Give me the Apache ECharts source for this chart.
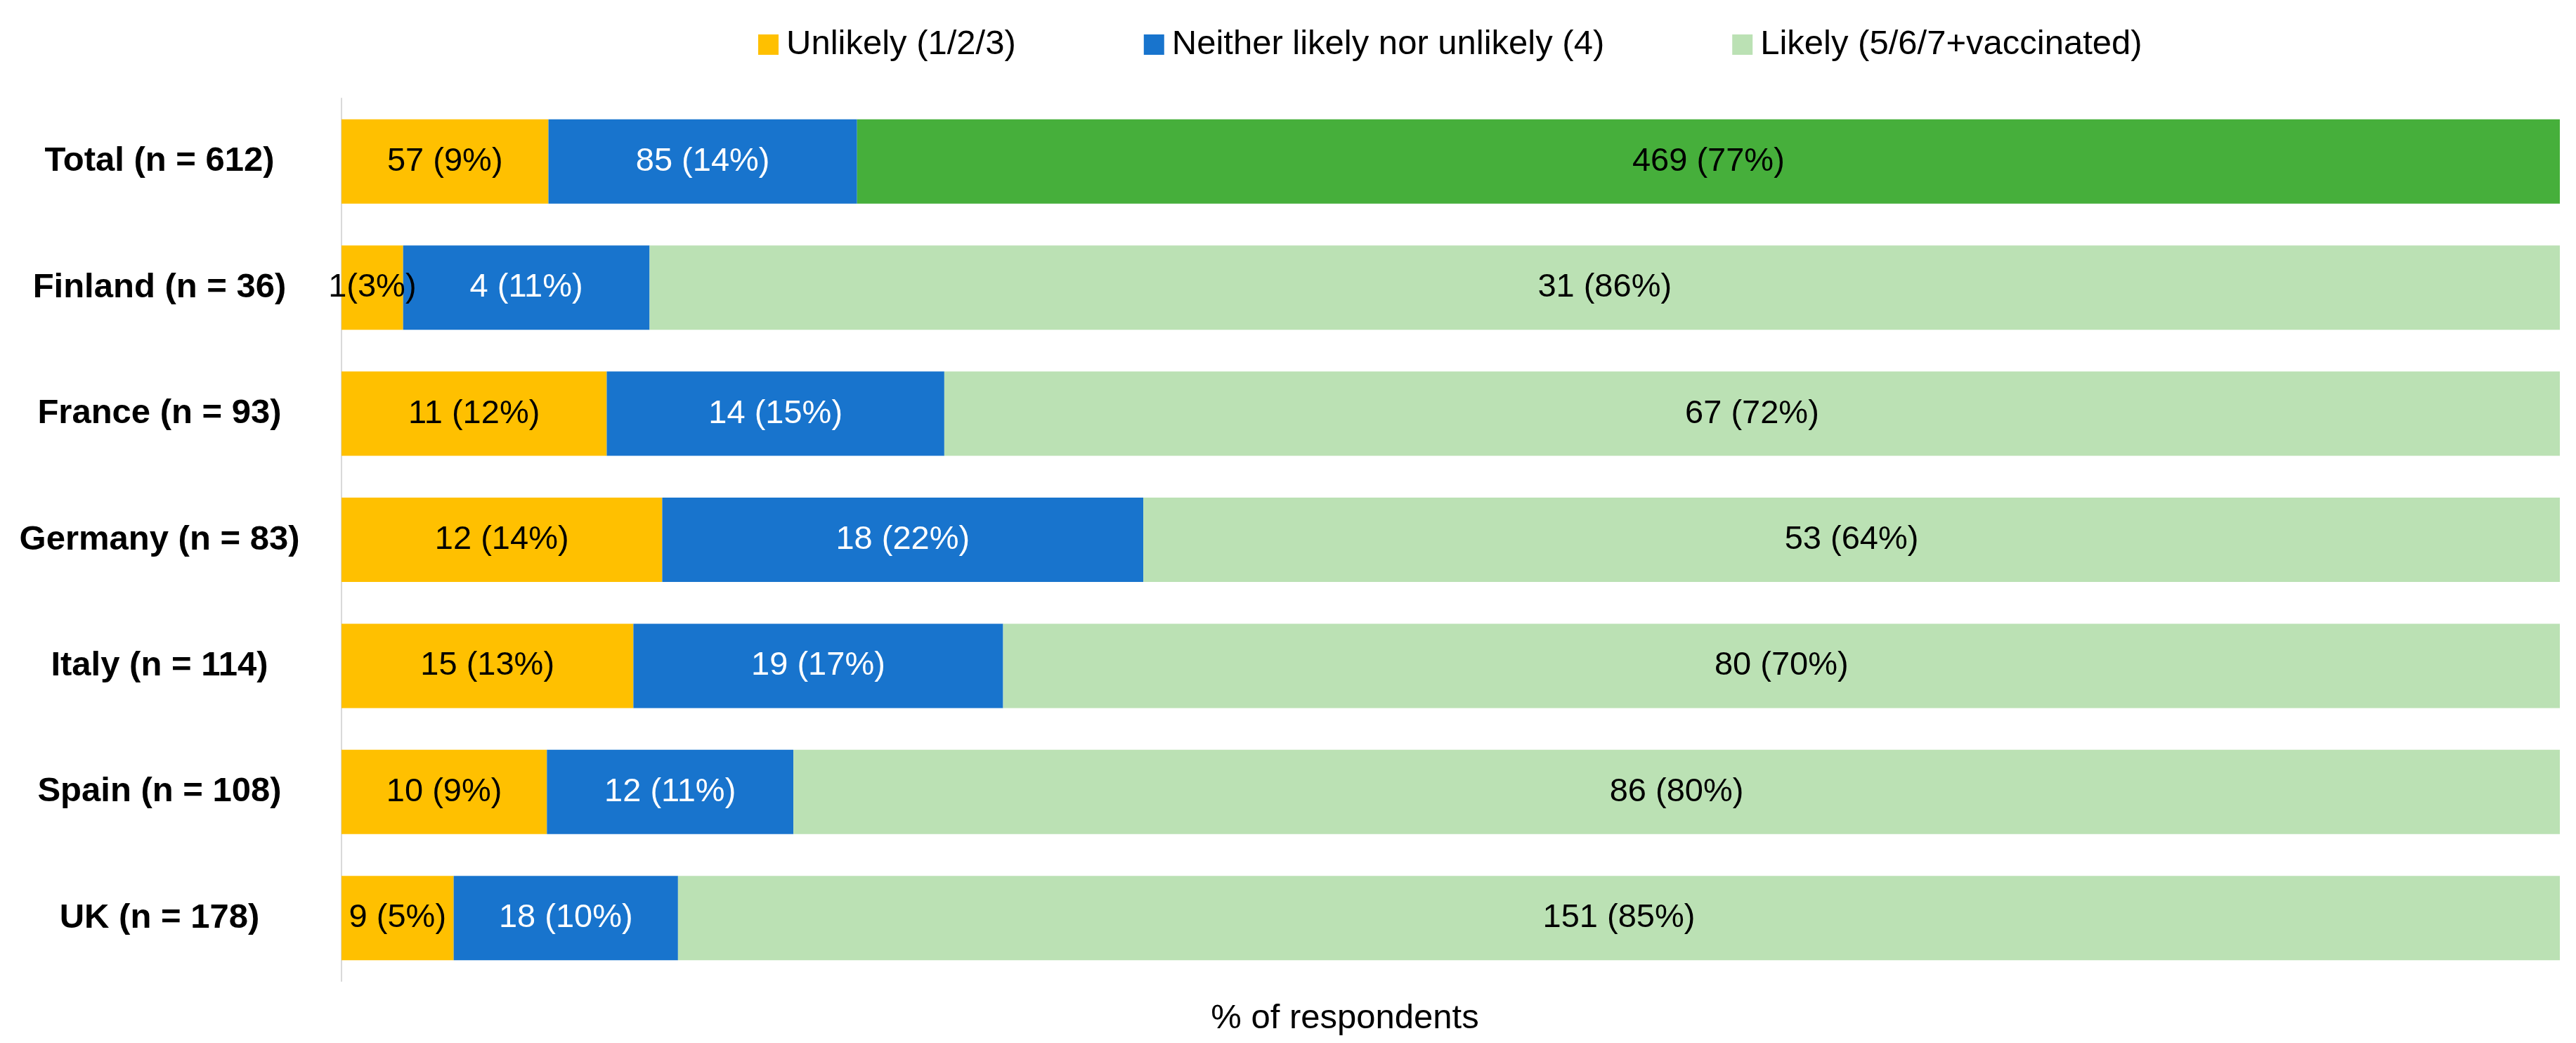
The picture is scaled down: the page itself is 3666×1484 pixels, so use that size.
<!DOCTYPE html>
<html>
<head>
<meta charset="utf-8">
<script src="https://cdn.jsdelivr.net/npm/echarts@6/dist/echarts.min.js"></script>
<style>
html,body{margin:0;padding:0;background:#fff;}
#chart{width:3666px;height:1484px;}
</style>
</head>
<body>
<div id="chart"></div>
<script>
const categories = ['Total (n = 612)', 'Finland (n = 36)', 'France (n = 93)', 'Germany (n = 83)', 'Italy (n = 114)', 'Spain (n = 108)', 'UK (n = 178)'];
const seriesNames = ['Unlikely (1/2/3)', 'Neither likely nor unlikely (4)', 'Likely (5/6/7+vaccinated)'];
const unlikelyCounts = [57, 1, 11, 12, 15, 10, 9];
const neitherCounts = [85, 4, 14, 18, 19, 12, 18];
const likelyCounts = [469, 31, 67, 53, 80, 86, 151];
const unlikelyLabels = ['57 (9%)', '1(3%)', '11 (12%)', '12 (14%)', '15 (13%)', '10 (9%)', '9 (5%)'];
const neitherLabels = ['85 (14%)', '4 (11%)', '14 (15%)', '18 (22%)', '19 (17%)', '12 (11%)', '18 (10%)'];
const likelyLabels = ['469 (77%)', '31 (86%)', '67 (72%)', '53 (64%)', '80 (70%)', '86 (80%)', '151 (85%)'];
const xAxisName = '% of respondents';

const colors = ['#FFC000', '#1874CD', '#BBE1B4'];
const totalLikelyColor = '#46AF3B';
const FONT = '"Liberation Sans", Arial, sans-serif';

const rowTotals = categories.map((c, i) => unlikelyCounts[i] + neitherCounts[i] + likelyCounts[i]);
function shares(arr) { return arr.map((v, i) => v / rowTotals[i]); }

function mkSeries(idx, counts, labels, labelColor) {
  return {
    name: seriesNames[idx],
    type: 'bar',
    stack: 'all',
    barWidth: 120,
    data: shares(counts).map((v, i) => {
      const d = { value: v };
      if (idx === 2 && i === 0) d.itemStyle = { color: totalLikelyColor };
      return d;
    }),
    itemStyle: { color: colors[idx] },
    label: {
      show: true,
      position: 'inside',
      color: labelColor,
      fontFamily: FONT,
      fontSize: 47,
      formatter: p => labels[p.dataIndex]
    },
    emphasis: { disabled: true },
    animation: false
  };
}

const chart = echarts.init(document.getElementById('chart'), null, { renderer: 'canvas' });
chart.setOption({
  animation: false,
  backgroundColor: '#ffffff',
  textStyle: { fontFamily: FONT },
  title: {
    text: xAxisName,
    left: 1909,
    top: 1420,
    textAlign: 'center',
    textStyle: { fontFamily: FONT, fontSize: 49, fontWeight: 'normal', color: '#000' }
  },
  legend: {
    left: 1074,
    top: 34,
    itemWidth: 29,
    itemHeight: 29,
    itemGap: 182,
    icon: 'rect',
    data: seriesNames,
    textStyle: { fontFamily: FONT, fontSize: 49, color: '#000', padding: [0, 0, 0, 6] },
    selectedMode: false
  },
  grid: { left: 486, right: 23, top: 140, bottom: 88, containLabel: false },
  xAxis: {
    type: 'value',
    min: 0,
    max: 1,
    axisLine: { show: false },
    axisTick: { show: false },
    axisLabel: { show: false },
    splitLine: { show: false }
  },
  yAxis: {
    type: 'category',
    inverse: true,
    data: categories,
    axisLine: { show: true, lineStyle: { color: '#D9D9D9', width: 2 } },
    axisTick: { show: false },
    axisLabel: {
      fontFamily: FONT,
      fontSize: 49,
      fontWeight: 'bold',
      color: '#000',
      align: 'center',
      margin: 259
    }
  },
  series: [
    mkSeries(0, unlikelyCounts, unlikelyLabels, '#000'),
    mkSeries(1, neitherCounts, neitherLabels, '#fff'),
    mkSeries(2, likelyCounts, likelyLabels, '#000')
  ]
});
</script>
</body>
</html>
